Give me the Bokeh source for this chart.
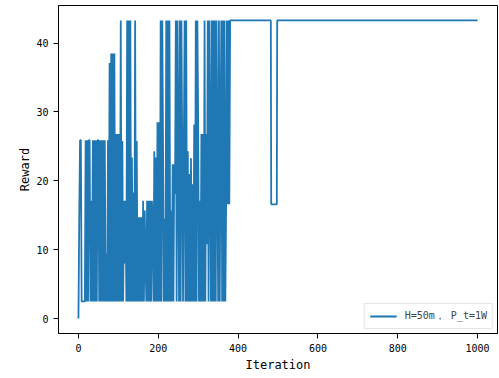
from bokeh.plotting import figure
from bokeh.models import Range1d, FixedTicker, Legend, LegendItem, ColumnDataSource
from bokeh.embed import file_html
from bokeh.resources import INLINE

# Chaotic phase: values every 2 iterations from 0 to 380
early_iterations = list(range(0, 381, 2))
early_rewards = [
    0, 14.7, 25.9, 25.9, 2.5,
    2.5, 2.5, 2.5, 2.5, 25.9,
    2.5, 25.9, 2.5, 25.9, 25.9,
    2.5, 17.1, 2.5, 25.9, 2.5,
    25.9, 2.5, 25.9, 2.5, 25.9,
    25.9, 2.5, 25.9, 2.5, 25.9,
    2.5, 25.9, 2.5, 25.9, 2.5,
    9.4, 2.5, 25.9, 2.5, 37.1,
    2.5, 38.5, 2.5, 38.5, 2.5,
    38.5, 2.5, 26.8, 2.5, 26.8,
    2.5, 26.8, 2.5, 43.3, 2.5,
    25.8, 2.5, 17.1, 8.0, 17.1,
    2.5, 43.3, 2.5, 43.3, 2.5,
    43.3, 2.5, 23.4, 2.5, 18.3,
    2.5, 43.3, 2.5, 25.8, 2.5,
    14.7, 2.5, 14.7, 2.5, 14.7,
    2.5, 17.1, 2.5, 15.7, 9.0,
    2.5, 17.1, 2.5, 17.1, 2.5,
    17.1, 2.5, 17.1, 14.5, 2.5,
    24.3, 2.5, 23.4, 2.5, 28.5,
    2.5, 28.5, 2.5, 43.3, 2.5,
    43.3, 24.6, 2.5, 14.5, 2.5,
    43.3, 2.5, 43.3, 2.5, 43.3,
    2.5, 15.7, 2.5, 22.4, 2.5,
    22.4, 18.1, 43.3, 2.5, 43.3,
    24.6, 2.5, 43.3, 2.5, 43.3,
    24.6, 2.5, 24.6, 43.3, 2.5,
    43.3, 2.5, 24.3, 2.5, 21.0,
    2.5, 23.3, 2.5, 19.5, 2.5,
    28.2, 2.5, 43.3, 2.5, 43.3,
    28.2, 2.5, 17.1, 2.5, 26.8,
    2.5, 26.8, 2.5, 43.3, 2.5,
    26.8, 10.8, 43.3, 2.5, 43.3,
    23.3, 2.5, 43.3, 2.5, 43.3,
    2.5, 43.3, 2.5, 43.3, 22.4,
    2.5, 43.3, 2.5, 27.0, 43.3,
    2.5, 43.3, 2.5, 43.3, 2.5,
    16.6, 43.3, 16.6, 43.3, 16.6,
    43.3,
]

# Converged phase: change points only
late_iterations = [482, 483, 497, 498, 1000]
late_rewards = [43.3, 16.6, 16.6, 43.3, 43.3]

x_ticks = [0, 200, 400, 600, 800, 1000]
y_ticks = [0, 10, 20, 30, 40]
series_label = "H=50m， P_t=1W"

iterations = early_iterations + late_iterations
rewards = early_rewards + late_rewards

ymin, ymax = min(rewards), max(rewards)
pad = (ymax - ymin) * 0.05
xpad = (max(iterations) - min(iterations)) * 0.05

FONT = "DejaVu Sans Mono"

p = figure(width=499, height=378, output_backend="svg", toolbar_location=None,
           x_range=Range1d(min(iterations) - xpad, max(iterations) + xpad),
           y_range=Range1d(ymin - pad, ymax + pad),
           min_border_left=58, min_border_right=2, min_border_top=5,
           min_border_bottom=45)

src = ColumnDataSource(dict(x=iterations, y=rewards))
r = p.line("x", "y", source=src, line_color="#1f77b4", line_width=1.8)

p.xgrid.visible = False
p.ygrid.visible = False
p.outline_line_color = "black"
p.outline_line_width = 1
p.outline_line_alpha = 1
p.background_fill_color = "white"
p.border_fill_color = "white"

for ax in (p.xaxis[0], p.yaxis[0]):
    ax.axis_line_color = "black"
    ax.major_tick_line_color = "black"
    ax.minor_tick_line_color = None
    ax.major_tick_in = 0
    ax.major_tick_out = 5
    ax.major_label_text_font = FONT
    ax.major_label_text_font_size = "10px"
    ax.major_label_text_color = "black"
    ax.axis_label_text_font = FONT
    ax.axis_label_text_font_size = "12px"
    ax.axis_label_text_font_style = "normal"
    ax.axis_label_text_color = "black"
    ax.major_label_standoff = 5

p.xaxis.ticker = FixedTicker(ticks=x_ticks)
p.yaxis.ticker = FixedTicker(ticks=y_ticks)
p.xaxis.axis_label = "Iteration"
p.yaxis.axis_label = "Reward"
p.xaxis.axis_label_standoff = 3
p.yaxis.axis_label_standoff = 1

legend = Legend(items=[LegendItem(label=series_label, renderers=[r])],
                location="bottom_right")
legend.label_text_font = FONT
legend.label_text_font_size = "10px"
legend.border_line_color = "#cccccc"
legend.border_line_width = 1
legend.background_fill_alpha = 0.8
legend.margin = 4
legend.padding = 5
legend.spacing = 0
legend.glyph_width = 27
legend.glyph_height = 12
legend.label_height = 12
legend.label_standoff = 8
p.add_layout(legend)

open("out.html", "w").write(file_html(p, INLINE))
